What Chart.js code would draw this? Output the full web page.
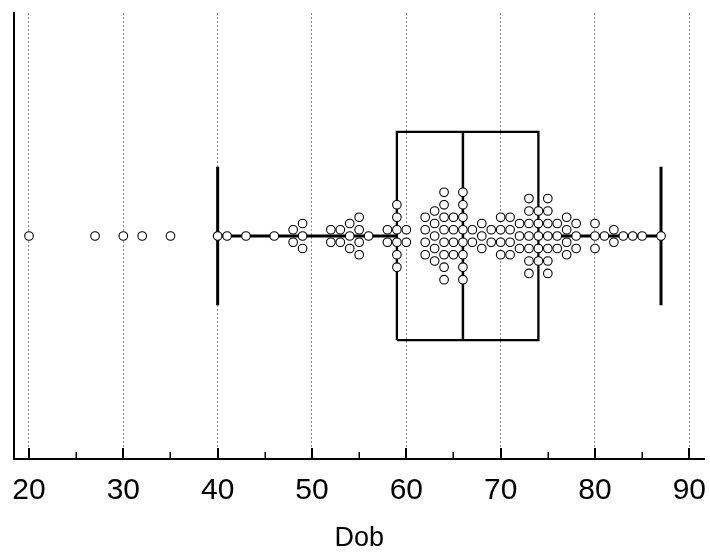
<!DOCTYPE html>
<html>
<head>
<meta charset="utf-8">
<script src="https://cdn.jsdelivr.net/npm/chart.js@4/dist/chart.umd.min.js"></script>
<style>
  html, body { margin: 0; padding: 0; background: #fff; }
  canvas { display: block; }
</style>
</head>
<body>
<canvas id="myChart" width="710" height="552"></canvas>
<script>
// Dob values (distinct) and how many records share each value
const dobValues = [20, 27, 30, 32, 35, 40, 41, 43, 46, 48, 49, 52, 53, 54, 55, 56, 58, 59, 60,
    62, 63, 64, 65, 66, 67, 68, 69, 70, 71, 72, 73, 74, 75, 76, 77, 78, 80, 81, 82, 83, 84, 85, 87];
const dobCounts = [1, 1, 1, 1, 1, 1, 1, 1, 1, 2, 3, 2, 2, 3, 4, 1, 2, 6, 2,
    4, 5, 8, 4, 8, 2, 3, 2, 4, 4, 3, 7, 5, 7, 3, 4, 3, 3, 1, 2, 1, 1, 1, 1];

// box plot summary
const q1 = 59;
const median = 66;
const q3 = 74;
const whiskerLow = 40;
const whiskerHigh = 87;

// axis ticks
const tickValues = [20, 30, 40, 50, 60, 70, 80, 90];
const minorTicks = [25, 35, 45, 55, 65, 75, 85];

// sizes in y-axis units (y runs -1..1)
const SWARM_STEP = 0.056;
const BOX_HALF = 0.467;
const CAP_HALF = 0.31;

const ctx = document.getElementById('myChart').getContext('2d');

let swarm = [];
for (let i = 0; i < dobValues.length; i++) {
    let n = dobCounts[i];
    for (let k = 0; k < n; k++) {
        swarm.push({ x: dobValues[i], y: (k - (n - 1) / 2) * SWARM_STEP });
    }
}

let lineSet = function (data, width) {
    return {
        data: data,
        showLine: true,
        borderColor: '#000',
        borderWidth: width,
        borderJoinStyle: 'miter',
        pointRadius: 0,
        fill: false,
    };
};

const axisTicks = {
    id: 'axisTicks',
    afterDraw(chart) {
        const xs = chart.scales.x;
        const yb = chart.chartArea.bottom;
        const c = chart.ctx;
        c.save();
        c.strokeStyle = '#000';
        c.lineWidth = 2;
        tickValues.forEach(v => {
            const px = Math.round(xs.getPixelForValue(v));
            c.beginPath();
            c.moveTo(px, yb);
            c.lineTo(px, yb - 11);
            c.stroke();
        });
        c.lineWidth = 1.5;
        minorTicks.forEach(v => {
            const px = Math.round(xs.getPixelForValue(v)) + 0.25;
            c.beginPath();
            c.moveTo(px, yb);
            c.lineTo(px, yb - 7);
            c.stroke();
        });
        c.restore();
    }
};

const config = {
    type: 'scatter',
    data: {
        datasets: [
            {
                data: swarm,
                pointRadius: 4.3,
                pointBackgroundColor: '#fff',
                pointBorderColor: '#000',
                pointBorderWidth: 1.1,
                showLine: false,
            },
            lineSet([{ x: q1, y: -BOX_HALF }, { x: q3, y: -BOX_HALF }, { x: q3, y: BOX_HALF },
                     { x: q1, y: BOX_HALF }, { x: q1, y: -BOX_HALF }], 2.3),
            lineSet([{ x: median, y: -BOX_HALF }, { x: median, y: BOX_HALF }], 2.5),
            lineSet([{ x: whiskerLow, y: 0 }, { x: q1, y: 0 }], 3),
            lineSet([{ x: q3, y: 0 }, { x: whiskerHigh, y: 0 }], 3),
            lineSet([{ x: whiskerLow, y: -CAP_HALF }, { x: whiskerLow, y: CAP_HALF }], 3),
            lineSet([{ x: whiskerHigh, y: -CAP_HALF }, { x: whiskerHigh, y: CAP_HALF }], 3),
        ]
    },
    options: {
        responsive: false,
        animation: false,
        devicePixelRatio: 1,
        events: [],
        layout: { padding: { top: 13, right: 4, left: 0, bottom: 0 } },
        plugins: {
            legend: { display: false },
            tooltip: { enabled: false },
        },
        scales: {
            x: {
                type: 'linear',
                min: 18.41,
                max: 91.62,
                afterBuildTicks: function (scale) {
                    scale.ticks = tickValues.map(v => ({ value: v }));
                },
                afterFit: function (scale) {
                    scale.height = 93;
                    scale.paddingLeft = 0;
                    scale.paddingRight = 0;
                },
                ticks: {
                    autoSkip: false,
                    maxRotation: 0,
                    padding: 14,
                    color: '#000',
                    font: { family: '"Liberation Sans", Arial, sans-serif', size: 30 },
                },
                grid: {
                    color: '#8a8a8a',
                    lineWidth: 1,
                    drawTicks: false,
                },
                border: { display: true, color: '#000', width: 2, dash: [2, 2] },
                title: {
                    display: true,
                    text: 'Dob',
                    color: '#000',
                    font: { family: '"Liberation Sans", Arial, sans-serif', size: 27, lineHeight: 1 },
                    padding: { top: 0, bottom: 0 },
                },
            },
            y: {
                type: 'linear',
                min: -1,
                max: 1,
                afterFit: function (scale) {
                    scale.width = 14;
                },
                ticks: { display: false },
                grid: { display: false, drawTicks: false },
                border: { display: true, color: '#000', width: 2 },
            },
        },
    },
    plugins: [axisTicks],
};

const dobChart = new Chart(ctx, config);
</script>
</body>
</html>
